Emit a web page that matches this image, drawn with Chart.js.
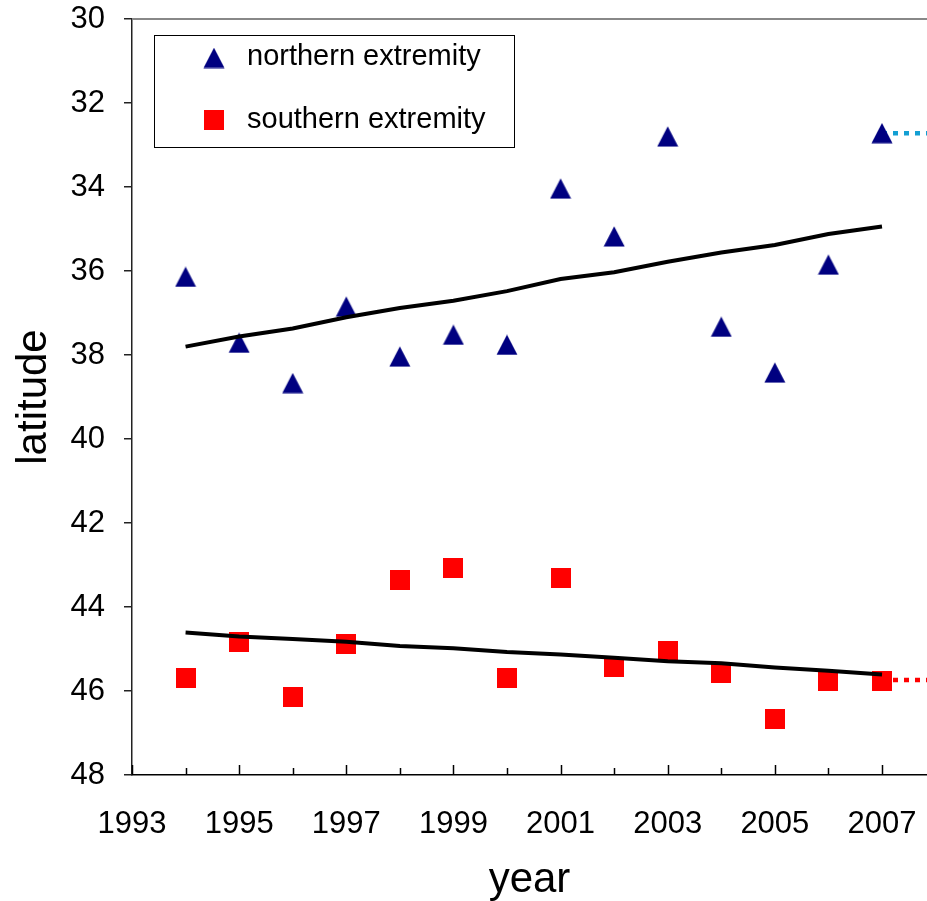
<!DOCTYPE html>
<html>
<head>
<meta charset="utf-8">
<script src="https://cdn.jsdelivr.net/npm/chart.js@4/dist/chart.umd.min.js"></script>
<style>
  body { margin: 0; background: #fff; }
</style>
</head>
<body>
<canvas id="latChart" width="927" height="901"></canvas>
<script>
// --- data ---
const years = [1994, 1995, 1996, 1997, 1998, 1999, 2000, 2001, 2002, 2003, 2004, 2005, 2006, 2007];
const northExtremity = [36.14, 37.71, 38.67, 36.85, 38.04, 37.52, 37.76, 34.04, 35.18, 32.80, 37.33, 38.42, 35.85, 32.72];
const southExtremity = [45.68, 44.83, 46.15, 44.87, 43.35, 43.07, 45.68, 43.30, 45.43, 45.05, 45.57, 46.67, 45.77, 45.77];
const northTrend = [37.80, 37.56, 37.37, 37.10, 36.88, 36.71, 36.48, 36.19, 36.03, 35.78, 35.56, 35.38, 35.12, 34.94];
const southTrend = [44.61, 44.70, 44.76, 44.83, 44.93, 44.98, 45.07, 45.13, 45.21, 45.29, 45.34, 45.44, 45.52, 45.61];
const extYears = [2007, 2008];
const northExt = [32.72, 32.72];
const southExt = [45.74, 45.74];
const legendLabels = ['northern extremity', 'southern extremity'];

const FONT = 'Arial, "Liberation Sans", sans-serif';
const NAVY = '#000080';
const RED = '#ff0000';

function pts(xs, ys) {
    return xs.map((x, i) => ({ x: x, y: ys[i] }));
}

// marker images (centred on the value like Excel markers)
function triangleMarker() {
    const c = document.createElement('canvas');
    c.width = 22; c.height = 21;
    const g = c.getContext('2d');
    g.fillStyle = NAVY;
    g.beginPath();
    g.moveTo(0.5, 20.5);
    g.lineTo(11, 0.3);
    g.lineTo(21.5, 20.5);
    g.closePath();
    g.fill();
    return c;
}
function squareMarker() {
    const c = document.createElement('canvas');
    c.width = 20; c.height = 20;
    const g = c.getContext('2d');
    g.fillStyle = RED;
    g.fillRect(0, 0, 20, 20);
    return c;
}
const triImg = triangleMarker();
const sqImg = squareMarker();

// inward tick marks on x, top frame line, legend box
const framePlugin = {
    id: 'frame',
    afterDraw(chart) {
        const ctx = chart.ctx;
        const area = chart.chartArea;
        const xs = chart.scales.x;
        ctx.save();
        // top frame
        ctx.strokeStyle = '#888';
        ctx.lineWidth = 2;
        ctx.beginPath();
        ctx.moveTo(area.left, area.top);
        ctx.lineTo(area.right, area.top);
        ctx.stroke();
        // x ticks pointing up into the plot
        ctx.strokeStyle = '#000';
        ctx.lineWidth = 1.5;
        xs.ticks.forEach(t => {
            if (!Number.isInteger(t.value)) return;
            const px = Math.round(xs.getPixelForValue(t.value)) + 0.5;
            const len = t.value % 2 === 1 ? 10 : 7;
            ctx.beginPath();
            ctx.moveTo(px, area.bottom);
            ctx.lineTo(px, area.bottom - len);
            ctx.stroke();
        });
        // legend
        ctx.fillStyle = '#fff';
        ctx.fillRect(154, 35, 360, 112);
        ctx.strokeStyle = '#000';
        ctx.lineWidth = 1;
        ctx.strokeRect(154.5, 35.5, 360, 112);
        ctx.drawImage(triImg, 214 - triImg.width / 2, 58 - triImg.height / 2);
        ctx.drawImage(sqImg, 214 - sqImg.width / 2, 120 - sqImg.height / 2);
        ctx.fillStyle = '#000';
        ctx.font = '29px ' + FONT;
        ctx.textBaseline = 'middle';
        ctx.textAlign = 'left';
        ctx.fillText(legendLabels[0], 247, 57);
        ctx.fillText(legendLabels[1], 247, 120);
        ctx.restore();
    }
};

new Chart(document.getElementById('latChart'), {
    type: 'scatter',
    data: {
        datasets: [
            { label: 'north trend', data: pts(years, northTrend), showLine: true, borderColor: '#000', borderWidth: 4, pointRadius: 0 },
            { label: 'south trend', data: pts(years, southTrend), showLine: true, borderColor: '#000', borderWidth: 4, pointRadius: 0 },
            { label: legendLabels[0], data: pts(years, northExtremity), pointStyle: triImg, showLine: false },
            { label: legendLabels[1], data: pts(years, southExtremity), pointStyle: sqImg, showLine: false },
            { label: 'north ext', data: pts(extYears, northExt), showLine: true, borderColor: '#139fd3', borderWidth: 4.5, borderDash: [5, 6], borderCapStyle: 'butt', pointRadius: 0 },
            { label: 'south ext', data: pts(extYears, southExt), showLine: true, borderColor: RED, borderWidth: 4.5, borderDash: [5, 6], borderCapStyle: 'butt', pointRadius: 0 }
        ]
    },
    options: {
        responsive: false,
        animation: false,
        layout: { padding: 0, autoPadding: false },
        plugins: {
            legend: { display: false },
            tooltip: { enabled: false }
        },
        scales: {
            x: {
                type: 'linear',
                min: 1993,
                max: 2007.84,
                afterFit: s => { s.height = 126; s.paddingLeft = 0; s.paddingRight = 0; },
                grid: { display: false, drawTicks: false },
                border: { display: true, color: '#000', width: 1.5 },
                ticks: {
                    stepSize: 1,
                    includeBounds: false,
                    autoSkip: false,
                    maxRotation: 0,
                    padding: 31,
                    color: '#000',
                    font: { family: FONT, size: 31 },
                    callback: v => (Number.isInteger(v) && v % 2 === 1) ? String(v) : ''
                },
                title: {
                    display: true,
                    text: 'year',
                    color: '#000',
                    font: { family: FONT, size: 42, lineHeight: 1 },
                    padding: { top: 0, bottom: 0 }
                }
            },
            y: {
                reverse: true,
                min: 30,
                max: 48,
                afterFit: s => { s.width = 132; s.paddingTop = 19; s.paddingBottom = 0; },
                grid: { drawOnChartArea: false, drawTicks: true, tickLength: 8, color: '#222', lineWidth: 1.5 },
                border: { display: true, color: '#222', width: 1.5 },
                ticks: {
                    stepSize: 2,
                    autoSkip: false,
                    padding: 19,
                    color: '#000',
                    font: { family: FONT, size: 31 }
                },
                title: {
                    display: true,
                    text: 'latitude',
                    color: '#000',
                    font: { family: FONT, size: 42 },
                    padding: { top: 9, bottom: 0 }
                }
            }
        }
    },
    plugins: [framePlugin]
});
</script>
</body>
</html>
